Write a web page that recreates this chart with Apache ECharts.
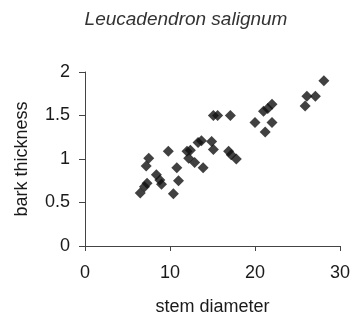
<!DOCTYPE html>
<html>
<head>
<meta charset="utf-8">
<script src="https://cdn.jsdelivr.net/npm/echarts@6/dist/echarts.min.js"></script>
<style>
html, body { margin: 0; padding: 0; background: #fff; }
#chart { width: 358px; height: 321px; }
</style>
</head>
<body>
<div id="chart"></div>
<script>
var titleText = 'Leucadendron salignum';
var xName = 'stem diameter';
var yName = 'bark thickness';

// stem diameter / bark thickness
var stemDiameter = [6.5, 7.0, 7.3, 7.2, 7.5, 8.4, 8.8, 9.0, 9.8, 10.4, 10.8, 11.0,
    12.0, 12.2, 12.4, 12.9, 13.9, 13.3, 13.7, 14.9, 15.1, 15.1, 15.6, 17.1,
    16.9, 17.2, 17.8, 20.0, 21.0, 21.2, 22.0, 22.0, 21.5, 25.9, 26.1, 27.1, 28.1];
var barkThickness = [0.61, 0.68, 0.72, 0.92, 1.01, 0.82, 0.76, 0.71, 1.09, 0.6, 0.9, 0.75,
    1.09, 1.01, 1.1, 0.96, 0.9, 1.19, 1.21, 1.2, 1.11, 1.5, 1.5, 1.5,
    1.09, 1.05, 1.0, 1.42, 1.55, 1.31, 1.42, 1.63, 1.58, 1.61, 1.72, 1.72, 1.9];

var points = [];
for (var i = 0; i < stemDiameter.length; i++) {
    points.push([stemDiameter[i], barkThickness[i]]);
}

var axisColor = '#444';
var textColor = '#1a1a1a';
var font = 'Liberation Sans';

var option = {
    animation: false,
    title: {
        text: titleText,
        left: 181,
        textAlign: 'center',
        top: 5,
        textStyle: {
            fontFamily: font,
            fontStyle: 'italic',
            fontWeight: 'normal',
            fontSize: 19,
            color: '#333'
        }
    },
    grid: {
        left: 85,
        right: 18,
        top: 72,
        bottom: 75
    },
    xAxis: {
        type: 'value',
        min: 0,
        max: 30,
        interval: 10,
        name: xName,
        nameLocation: 'middle',
        nameGap: 52,
        nameTextStyle: { fontFamily: font, fontSize: 18, color: textColor },
        axisLine: { lineStyle: { color: axisColor, width: 1 } },
        axisTick: { show: true, length: 5, lineStyle: { color: axisColor } },
        axisLabel: { fontFamily: font, fontSize: 18, color: textColor, margin: 18 },
        splitLine: { show: false }
    },
    yAxis: {
        type: 'value',
        min: 0,
        max: 2,
        interval: 0.5,
        name: yName,
        nameLocation: 'middle',
        nameRotate: 90,
        nameGap: 54,
        nameTextStyle: { fontFamily: font, fontSize: 18, color: textColor },
        axisLine: { show: true, lineStyle: { color: axisColor, width: 1 } },
        axisTick: { show: true, length: 6, lineStyle: { color: axisColor } },
        axisLabel: { fontFamily: font, fontSize: 18, color: textColor, margin: 15 },
        splitLine: { show: false }
    },
    series: [{
        type: 'scatter',
        symbol: 'diamond',
        symbolSize: 11,
        itemStyle: { color: '#111' },
        data: points
    }]
};

var myChart = echarts.init(document.getElementById('chart'));
myChart.setOption(option);
</script>
</body>
</html>
